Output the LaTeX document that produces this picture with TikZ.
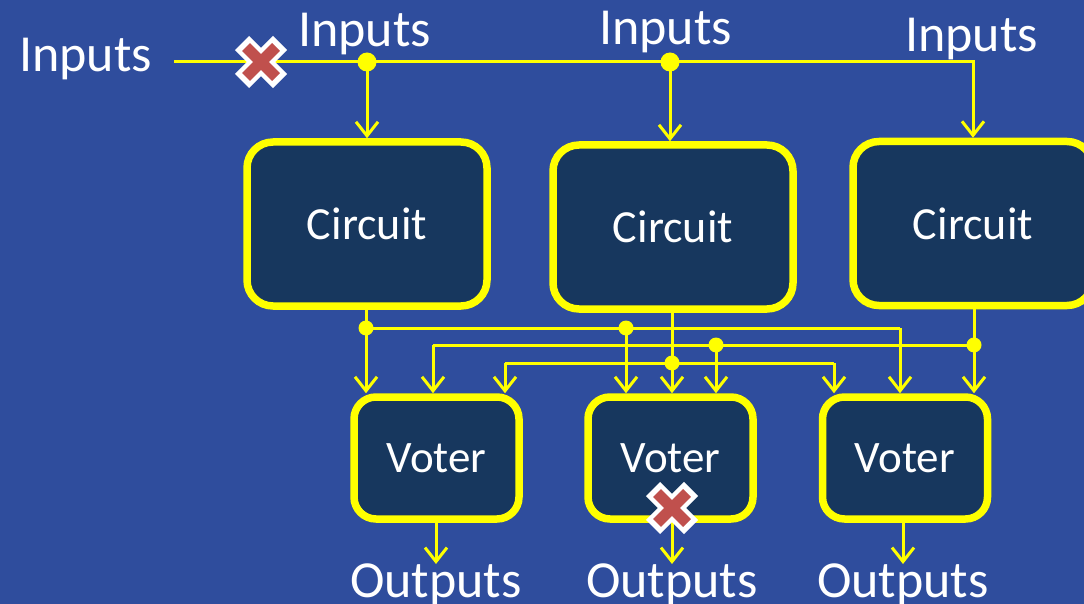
\documentclass[tikz,border=0pt]{standalone}
\usepackage{fontspec}
\setmainfont{Carlito}
\usetikzlibrary{arrows.meta}
\definecolor{bg}{RGB}{47,77,157}
\definecolor{boxfill}{RGB}{23,55,94}
\definecolor{wirec}{RGB}{255,255,0}
\definecolor{xred}{RGB}{192,80,77}
\begin{document}
\begin{tikzpicture}[x=1pt,y=-1pt,
  box/.style={draw=wirec, fill=boxfill, line width=7.5pt, rounded corners=26pt, inner sep=0pt, text=white},
  bigbox/.style={box, minimum width=240pt, minimum height=164pt, font=\fontsize{46}{46}\selectfont},
  votebox/.style={box, rounded corners=22pt, minimum width=165pt, minimum height=122pt, font=\fontsize{45}{45}\selectfont},
  lbl/.style={text=white, inner sep=0pt, font=\fontsize{52}{52}\selectfont},
  wire/.style={draw=wirec, line width=3pt},
  arr/.style={wire, -{Straight Barb[length=14pt,width=22pt,line width=3pt]}},
  dotbig/.style={fill=wirec, circle, inner sep=0pt, minimum size=19pt},
  dotsm/.style={fill=wirec, circle, inner sep=0pt, minimum size=15pt},
]
\clip (0,0) rectangle (1084,604);
\fill[bg] (0,0) rectangle (1084,604);

% boxes
\node[bigbox] (c1) at (367,224) {Circuit};
\node[bigbox] (c2) at (673,227) {Circuit};
\node[bigbox] (c3) at (973,223.5) {Circuit};
\node[votebox] (v1) at (436.5,458) {Voter};
\node[votebox] (v2) at (670.5,458) {Voter};
\node[votebox] (v3) at (905,458) {Voter};

% labels
\node[lbl, anchor=base west] (in0) at (19,72) {Inputs};
\node[lbl, anchor=base west] (in1) at (298,47) {Inputs};
\node[lbl, anchor=base west] (in2) at (599,45) {Inputs};
\node[lbl, anchor=base west] (in3) at (905,52) {Inputs};
\node[lbl, anchor=north] (o1) at (436,564) {Outputs};
\node[lbl, anchor=north] (o2) at (672,564) {Outputs};
\node[lbl, anchor=north] (o3) at (903,564) {Outputs};

% input bus
\coordinate (inL) at (174,62);
\coordinate (ij1) at (367,62);
\coordinate (ij2) at (670,62);
\draw[arr] (inL) -| (c3.north);
\draw[arr] (ij1) -- (ij1 |- c1.north);
\draw[arr] (ij2) -- (ij2 |- c2.north);
\node[dotbig] (d1) at (ij1) {};
\node[dotbig] (d2) at (ij2) {};

% circuit 1 output
\coordinate (a1) at (366,328);
\coordinate (a2) at (626,328);
\coordinate (a3) at (900,328);
\draw[arr] (a1 |- c1.south) -- (a1 |- v1.north);
\draw[wire] (a1) -- (a3);
\draw[arr] (a3) -- (a3 |- v3.north);
\draw[arr] (a2) -- (a2 |- v2.north);
\node[dotsm] (da1) at (a1) {};
\node[dotsm] (da2) at (a2) {};

% circuit 3 output
\coordinate (b1) at (433,345);
\coordinate (b2) at (716,345);
\coordinate (b3) at (974,345);
\draw[arr] (b3 |- c3.south) -- (b3 |- v3.north);
\draw[wire] (b1) -- (b3);
\draw[arr] (b1) -- (b1 |- v1.north);
\draw[arr] (b2) -- (b2 |- v2.north);
\node[dotsm] (db2) at (b2) {};
\node[dotsm] (db3) at (b3) {};

% circuit 2 output
\coordinate (e1) at (505,363);
\coordinate (e2) at (672,363);
\coordinate (e3) at (834,363);
\draw[arr] (e2 |- c2.south) -- (e2 |- v2.north);
\draw[wire] (e1) -- (e3);
\draw[arr] (e1) -- (e1 |- v1.north);
\draw[arr] (e3) -- (e3 |- v3.north);
\node[dotsm] (de2) at (e2) {};

% outputs
\draw[arr] (o1.north |- v1.south) -- (o1.north);
\draw[arr] (o2.north |- v2.south) -- (o2.north);
\draw[arr] (o3.north |- v3.south) -- (o3.north);

% failure marks
\foreach \px/\py in {261/62, 672/508}{
  \begin{scope}[shift={(\px,\py)}]
    \draw[white, line width=20pt] (-19,-19) -- (19,19) (-19,19) -- (19,-19);
    \draw[xred, line width=11pt] (-15,-15) -- (15,15) (-15,15) -- (15,-15);
  \end{scope}
}
\end{tikzpicture}
\end{document}
